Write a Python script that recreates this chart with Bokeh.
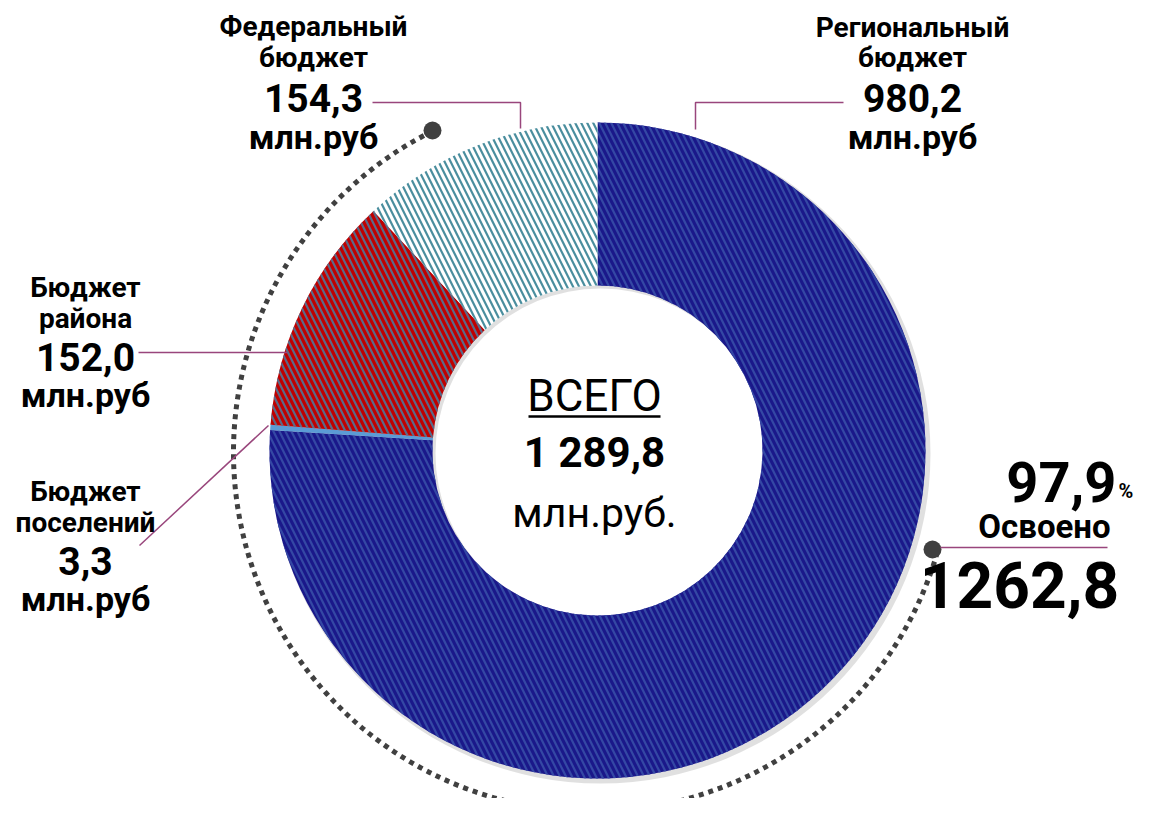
import math
from bokeh.plotting import figure
from bokeh.models import Range1d
from bokeh.core.properties import value
from bokeh.embed import file_html
from bokeh.resources import INLINE

# ---------------- data ----------------
categories = ["Региональный бюджет", "Бюджет поселений", "Бюджет района", "Федеральный бюджет"]
values = [980.2, 3.3, 152.0, 154.3]
value_labels = ["980,2", "3,3", "152,0", "154,3"]
name_lines = [["Региональный", "бюджет"], ["Бюджет", "поселений"], ["Бюджет", "района"], ["Федеральный", "бюджет"]]
unit_label = "млн.руб"
total_label = "1 289,8"
mastered_label = "1262,8"
mastered_pct = "97,9"

# ---------------- style ----------------
fills = ["#1a188a", "#5b9bd5", "#c00000", "#ffffff"]
hatch_cols = ["#3448a4", "#5b9bd5", "#5a6a88", "#4a8e9e"]
hatches = ["left_diagonal_line", " ", "left_diagonal_line", "left_diagonal_line"]
FONT = value("'Liberation Sans Narrow', 'Arial Narrow', 'Roboto', sans-serif")
LEAD = "#99467c"

W, H = 1142, 798
def Y(img_y):
    return H - img_y

p = figure(width=W, height=H, x_range=Range1d(0, W), y_range=Range1d(0, H),
           output_backend="svg", toolbar_location=None, min_border=0)
p.axis.visible = False
p.grid.visible = False
p.outline_line_color = None
p.background_fill_color = "white"

cx, cy = 597, Y(450)
r_out, r_in = 328, 165

# wedge angles, clockwise from the top
total = sum(values)
starts, ends = [], []
a = math.pi / 2
for v in values:
    starts.append(a)
    a = a - 2 * math.pi * v / total
    ends.append(a)

# soft shadow
p.annular_wedge(x=cx + 3, y=cy - 3, inner_radius=r_in, outer_radius=r_out + 2,
                start_angle=0, end_angle=2 * math.pi, fill_color="#000000", fill_alpha=0.12,
                line_color=None)

p.annular_wedge(x=[cx] * len(values), y=[cy] * len(values), inner_radius=r_in, outer_radius=r_out,
                start_angle=starts, end_angle=ends, direction="clock",
                fill_color=fills, line_color=None,
                hatch_pattern=hatches, hatch_color=hatch_cols, hatch_scale=12, hatch_weight=2.2)

# dotted decorative arc
dcx, dcy, dr = 592, Y(452), 359
a0 = math.atan2(Y(130) - dcy, 432 - dcx)
a1 = math.atan2(Y(548) - dcy, 932 - dcx) + 2 * math.pi
p.arc(x=dcx, y=dcy, radius=dr, start_angle=a0, end_angle=a1, direction="anticlock",
      line_color="#404040", line_width=5, line_dash="5 5")
p.circle(x=[432, 932], y=[Y(130), Y(549)], radius=9, fill_color="#404040", line_color=None)

# leader lines
p.line(x=[372, 520, 520], y=[Y(102), Y(102), Y(128)], line_color=LEAD, line_width=1.5)
p.line(x=[695, 695, 843], y=[Y(129), Y(102), Y(102)], line_color=LEAD, line_width=1.5)
p.line(x=[138, 287], y=[Y(352), Y(352)], line_color=LEAD, line_width=1.5)
p.line(x=[139, 268], y=[Y(545), Y(425)], line_color=LEAD, line_width=1.5)
p.line(x=[940, 1107], y=[Y(547), Y(547)], line_color=LEAD, line_width=1.5)

# labels
label_pos = {0: (912, [27, 57, 97, 136]), 1: (85, [491, 522, 560, 598]),
             2: (85, [287, 318, 356, 394]), 3: (313, [26, 57, 97, 136])}
for i in range(len(values)):
    x, ys = label_pos[i]
    p.text(x=[x, x], y=[Y(ys[0]), Y(ys[1])], text=name_lines[i], text_font=FONT,
           text_font_style="bold", text_font_size="28px", text_align="center",
           text_baseline="middle", text_color="black")
    p.text(x=[x], y=[Y(ys[2])], text=[value_labels[i]], text_font=FONT,
           text_font_style="bold", text_font_size="39px", text_align="center",
           text_baseline="middle", text_color="black")
    p.text(x=[x], y=[Y(ys[3])], text=[unit_label], text_font=FONT,
           text_font_style="bold", text_font_size="34px", text_align="center",
           text_baseline="middle", text_color="black")

# center
p.text(x=[594], y=[Y(395)], text=["ВСЕГО"], text_font=FONT, text_font_size="44px",
       text_align="center", text_baseline="middle", text_color="black")
p.segment(x0=[528], y0=[Y(416)], x1=[660], y1=[Y(416)], line_color="black", line_width=2.5)
p.text(x=[594], y=[Y(452)], text=[total_label], text_font=FONT, text_font_style="bold",
       text_font_size="42px", text_align="center", text_baseline="middle", text_color="black")
p.text(x=[594], y=[Y(512)], text=["млн.руб."], text_font=FONT, text_font_size="41px",
       text_align="center", text_baseline="middle", text_color="black")

# mastered
p.text(x=[1116], y=[Y(481)], text=[mastered_pct], text_font=FONT, text_font_style="bold",
       text_font_size="56px", text_align="right", text_baseline="middle", text_color="black")
p.text(x=[1118], y=[Y(490)], text=["%"], text_font=FONT, text_font_style="bold",
       text_font_size="20px", text_align="left", text_baseline="middle", text_color="black")
p.text(x=[1044], y=[Y(526)], text=["Освоено"], text_font=FONT, text_font_style="bold",
       text_font_size="33px", text_align="center", text_baseline="middle", text_color="black")
p.text(x=[1019], y=[Y(584)], text=[mastered_label], text_font=FONT, text_font_style="bold",
       text_font_size="64px", text_align="center", text_baseline="middle", text_color="black")

open("out.html", "w").write(file_html(p, INLINE))
